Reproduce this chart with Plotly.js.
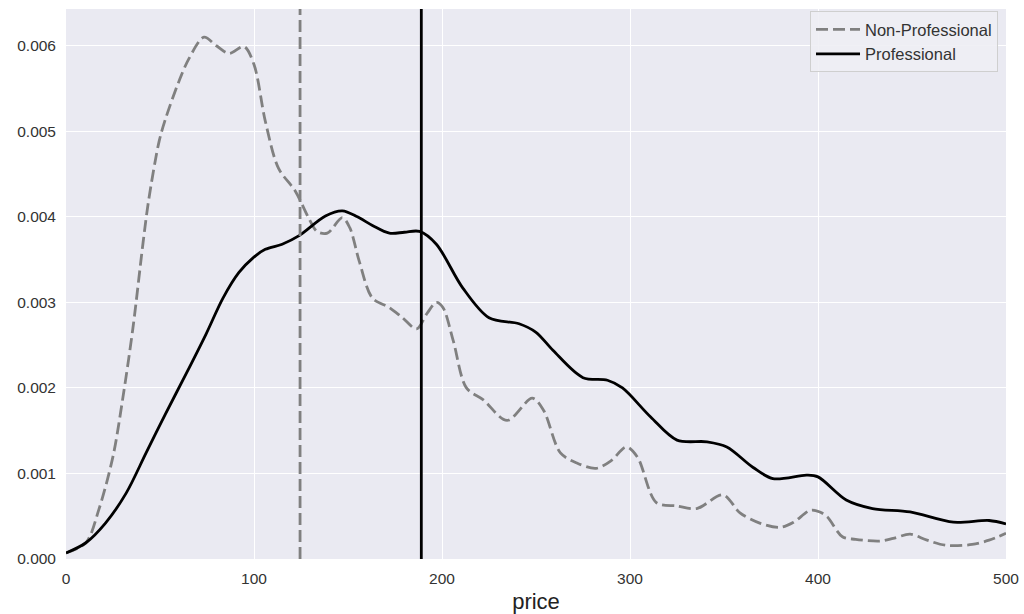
<!DOCTYPE html>
<html><head><meta charset="utf-8">
<script src="https://cdn.plot.ly/plotly-3.0.1.min.js"></script>
<style>html,body{margin:0;padding:0;background:#fff}#chart{width:1024px;height:614px}</style>
</head><body><div id="chart"></div>
<script>
const nonProX = [0,10.6,17.5,25,30,35.6,41,44,49.5,53,60,65.4,73.4,80,86.7,94.7,100,106,113,122,129,133.5,139,147,151,156,163,172,179,186.5,192,197,200.5,206,213,222,234.6,248,254,263,272,282,290,298,304,314,325,335.5,349.5,358.5,369,380,387,396,401,405,413,420,433,440,449,458,468,482,491,500];
const nonProY = [0.00007,0.00019,0.00058,0.0012,0.00185,0.0027,0.0037,0.0042,0.00488,0.00515,0.00558,0.00585,0.0061,0.006,0.00591,0.00599,0.00578,0.00512,0.00457,0.0043,0.00399,0.00383,0.00381,0.00399,0.00387,0.00348,0.00305,0.00294,0.00282,0.00269,0.00287,0.003,0.00294,0.00255,0.0020,0.00186,0.00162,0.00188,0.00174,0.00124,0.00112,0.00106,0.00115,0.00131,0.00119,0.00066,0.00062,0.00059,0.00075,0.00054,0.00042,0.00037,0.00043,0.00057,0.00055,0.00049,0.00026,0.00023,0.00021,0.00024,0.00029,0.00022,0.00016,0.00017,0.00022,0.0003];
const proX = [0,10.6,21,32,42.6,53,64,74.5,83.5,92,99.5,106,115,124,138,147,155,163,172,180,188,197,211,225,241,250,259,275,288,296,311,325,341,351.5,365.5,376,394,400,415,429,449,472,491,500];
const proY = [0.00007,0.00019,0.00042,0.00077,0.00124,0.0017,0.00217,0.00263,0.00305,0.00335,0.00352,0.00362,0.00368,0.00378,0.00401,0.00407,0.004,0.0039,0.00381,0.00382,0.00383,0.00368,0.00317,0.00282,0.00275,0.00265,0.00244,0.00212,0.00209,0.0020,0.00166,0.00139,0.00137,0.00131,0.00107,0.00094,0.00098,0.00096,0.00069,0.00059,0.00055,0.00043,0.00045,0.00041];
const meanLines = [124.5, 189];
const seriesNames = ["Non-Professional", "Professional"];
const xTicks = [0,100,200,300,400,500];
const yTicks = [0,0.001,0.002,0.003,0.004,0.005,0.006];

const traces = [
  {x: nonProX, y: nonProY, mode: 'lines', name: seriesNames[0],
   line: {color: '#808080', width: 2.8, dash: '12px,5px', shape: 'spline', smoothing: 0.9}},
  {x: proX, y: proY, mode: 'lines', name: seriesNames[1],
   line: {color: '#000000', width: 2.8, shape: 'spline', smoothing: 0.9}}
];
const layout = {
  width: 1024, height: 614,
  margin: {l: 66, r: 18, t: 9, b: 55},
  paper_bgcolor: '#ffffff', plot_bgcolor: '#EAEAF2',
  font: {family: 'Liberation Sans, Arial, sans-serif', color: '#333333', size: 15.5},
  showlegend: true,
  legend: {x: 0.9915, y: 0.996, xanchor: 'right', yanchor: 'top',
    bgcolor: 'rgba(238,238,244,0.9)', bordercolor: '#cfcfcf', borderwidth: 1,
    itemwidth: 44, tracegroupgap: 0,
    font: {size: 16.5, color: '#333333'}},
  xaxis: {range: [0, 500], tickvals: xTicks, ticktext: xTicks.map(String),
    showgrid: true, gridcolor: '#ffffff', gridwidth: 1, zeroline: false, showline: false,
    ticks: '', ticklen: 0, ticklabelstandoff: 8,
    title: {text: 'price', font: {size: 22, color: '#222222'}, standoff: 10}},
  yaxis: {range: [0, 0.00643], tickvals: yTicks, ticktext: yTicks.map(v => v.toFixed(3)),
    showgrid: true, gridcolor: '#ffffff', gridwidth: 1, zeroline: false, showline: false,
    ticks: '', ticklen: 0, ticklabelstandoff: 9},
  shapes: [
    {type: 'line', xref: 'x', yref: 'paper', x0: meanLines[0], x1: meanLines[0], y0: 0, y1: 1,
     line: {color: '#808080', width: 2.8, dash: '12px,5px'}},
    {type: 'line', xref: 'x', yref: 'paper', x0: meanLines[1], x1: meanLines[1], y0: 0, y1: 1,
     line: {color: '#000000', width: 2.8}}
  ]
};
Plotly.newPlot('chart', traces, layout, {displayModeBar: false, staticPlot: true});
</script></body></html>
